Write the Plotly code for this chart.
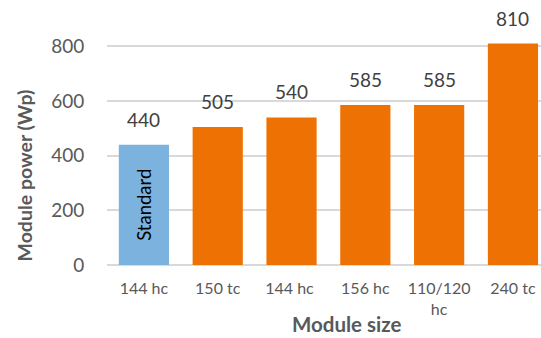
import plotly.graph_objects as go

categories = ["144 hc", "150 tc", "144 hc ", "156 hc", "110/120<br>hc", "240 tc"]
values = [440, 505, 540, 585, 585, 810]
colors = ["#7BB3DE", "#EE7203", "#EE7203", "#EE7203", "#EE7203", "#EE7203"]
inside_label = "Standard"
y_ticks = [0, 200, 400, 600, 800]
x_title = "Module size"
y_title = "Module power (Wp)"

font = "Lato, 'Open Sans', sans-serif"
xs = list(range(len(categories)))

fig = go.Figure(go.Bar(
    x=xs, y=values, marker_color=colors, marker_line_width=0, width=0.68,
))
for x, v in zip(xs, values):
    fig.add_annotation(x=x, y=v, text=str(v), showarrow=False, yanchor="bottom", yshift=12,
                       font=dict(size=19, color="#404040", family=font))
fig.add_annotation(x=0, y=values[0] / 2, text=inside_label, textangle=-90, showarrow=False,
                   xanchor="center", yanchor="middle",
                   font=dict(size=18.5, color="#000000", family=font))
fig.add_annotation(xref="paper", yref="paper", x=(24 - 107) / 434, y=(265 - 175.5) / 246,
                   xanchor="center", yanchor="middle",
                   text="<b>" + y_title + "</b>", textangle=-90, showarrow=False,
                   font=dict(size=19.5, color="#595959", family=font))
fig.add_annotation(xref="paper", yref="paper", x=(347 - 107) / 434, y=(265 - 337) / 246,
                   xanchor="center", yanchor="bottom", borderpad=0,
                   text="<b>" + x_title + "</b>", showarrow=False,
                   font=dict(size=20.5, color="#595959", family=font))
fig.update_layout(
    width=541, height=338, margin=dict(l=107, r=0, t=19, b=73),
    plot_bgcolor="white", paper_bgcolor="white", showlegend=False,
    font=dict(family=font),
    xaxis=dict(range=[-0.5, 5.38], tickvals=xs, ticktext=categories,
               tickfont=dict(size=16, color="#595959"), ticks="outside", ticklen=9,
               tickcolor="rgba(0,0,0,0)", showline=False, zeroline=False),
    yaxis=dict(range=[0, 900], tickvals=y_ticks, tickfont=dict(size=19, color="#595959"),
               gridcolor="#D9D9D9", gridwidth=1.5, zeroline=True, zerolinecolor="#D9D9D9",
               zerolinewidth=2, ticks="outside", ticklen=18, tickcolor="rgba(0,0,0,0)"),
)
fig.write_html("out.html")
